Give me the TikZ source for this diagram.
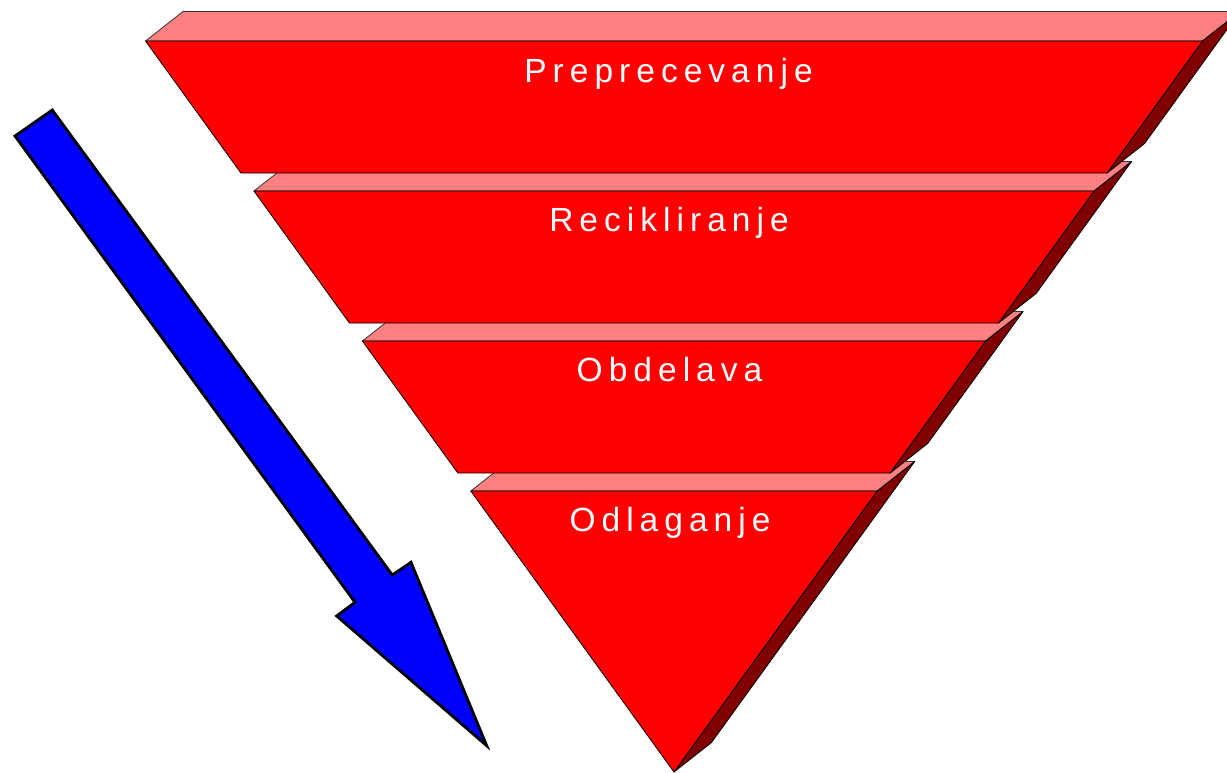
\documentclass[tikz,border=0pt]{standalone}
\usepackage{fontspec}
\newfontfamily\labelfont[LetterSpace=18]{Liberation Sans}
\definecolor{frontred}{HTML}{FF0000}
\definecolor{toppink}{HTML}{FF8080}
\definecolor{sidedark}{HTML}{800000}
\definecolor{arrowblue}{HTML}{0000FF}
\begin{document}
\begin{tikzpicture}[x=1pt,y=-1pt,
  facefront/.style={fill=frontred,draw=black,line width=0.8pt,line join=round},
  facetop/.style={fill=toppink,draw=black!80,line width=0.8pt,line join=round},
  faceside/.style={fill=sidedark,draw=black,line width=0.8pt,line join=round},
  lvltext/.style={text=white,font=\labelfont\fontsize{33.5}{40}\selectfont,anchor=base,inner sep=0pt},
  bigarrow/.style={fill=arrowblue,draw=black,line width=2.8pt,line join=miter}]
\useasboundingbox (0,0) rectangle (1227,772);
\clip (0,0) rectangle (1227,772);
% layer 4 (bottom)
\draw[facetop] (470.8,491) -- (508.3,461.5) -- (914.7,461.5) -- (877.2,491) -- cycle;
\draw[faceside] (877.2,491) -- (914.7,461.5) -- (711.5,742.5) -- (674,772) -- cycle;
\draw[facefront] (470.8,491) -- (877.2,491) -- (674,772) -- cycle;
% layer 3
\draw[facetop] (362.4,341) -- (399.9,311.5) -- (1023.1,311.5) -- (985.6,341) -- cycle;
\draw[faceside] (985.6,341) -- (1023.1,311.5) -- (927.7,443.5) -- (890.2,473) -- cycle;
\draw[facefront] (362.4,341) -- (985.6,341) -- (890.2,473) -- (457.8,473) -- cycle;
% layer 2
\draw[facetop] (253.95,191) -- (291.45,161.5) -- (1131.55,161.5) -- (1094.05,191) -- cycle;
\draw[faceside] (1094.05,191) -- (1131.55,161.5) -- (1036.1,293.5) -- (998.6,323) -- cycle;
\draw[facefront] (253.95,191) -- (1094.05,191) -- (998.6,323) -- (349.4,323) -- cycle;
% layer 1 (top)
\draw[facetop] (145.5,41) -- (183,11.5) -- (1240,11.5) -- (1202.5,41) -- cycle;
\draw[faceside] (1202.5,41) -- (1240,11.5) -- (1144.6,143.5) -- (1107.1,173) -- cycle;
\draw[facefront] (145.5,41) -- (1202.5,41) -- (1107.1,173) -- (240.9,173) -- cycle;
% labels
\node[lvltext] (l1) at (668.5,82.7) {Preprecevanje};
\node[lvltext] (l2) at (669,231.7) {Recikliranje};
\node[lvltext] (l3) at (669.5,381.7) {Obdelava};
\node[lvltext] (l4) at (670,531.7) {Odlaganje};
% arrow
\draw[bigarrow] (15,136) -- (52.3,110) -- (392.3,575) -- (411,562.3) -- (486.7,745.7) -- (336.7,616) -- (355,602.3) -- cycle;
\end{tikzpicture}
\end{document}
